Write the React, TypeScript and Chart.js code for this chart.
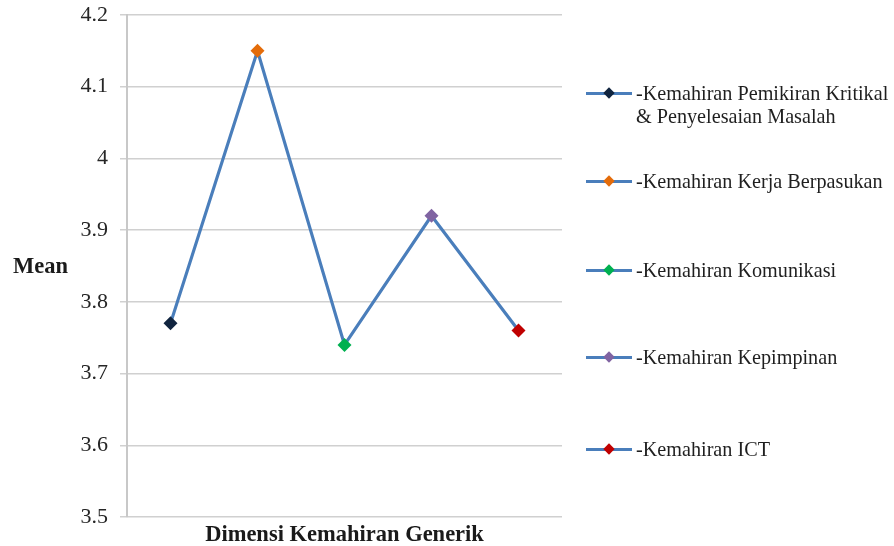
import React, { useEffect, useRef } from "react";
import { Chart, registerables } from "chart.js";

Chart.register(...registerables);

const categories = [
  "-Kemahiran Pemikiran Kritikal & Penyelesaian Masalah",
  "-Kemahiran Kerja Berpasukan",
  "-Kemahiran Komunikasi",
  "-Kemahiran Kepimpinan",
  "-Kemahiran ICT",
];
const legendLines = [
  ["-Kemahiran Pemikiran Kritikal", "& Penyelesaian Masalah"],
  ["-Kemahiran Kerja Berpasukan"],
  ["-Kemahiran Komunikasi"],
  ["-Kemahiran Kepimpinan"],
  ["-Kemahiran ICT"],
];
const meanValues = [3.77, 4.15, 3.74, 3.92, 3.76];
const pointColors = ["#10243F", "#E46C0A", "#00B050", "#8064A2", "#C00000"];
const yMin = 3.5;
const yMax = 4.2;
const yStep = 0.1;
const yTitle = "Mean";
const xTitle = "Dimensi Kemahiran Generik";

const LINE_COLOR = "#4A7EBB";
const FONT = "'Liberation Serif', 'Times New Roman', serif";
const legendCenters = [93, 181, 270, 357, 449];

export default function App() {
  const canvasRef = useRef<HTMLCanvasElement | null>(null);

  useEffect(() => {
    if (!canvasRef.current) return;
    const chart = new Chart(canvasRef.current, {
      type: "line",
      data: {
        labels: categories,
        datasets: [
          {
            label: yTitle,
            data: meanValues,
            borderColor: LINE_COLOR,
            borderWidth: 3.2,
            pointStyle: "rectRot",
            pointRadius: 7,
            pointBackgroundColor: pointColors,
            pointBorderColor: pointColors,
            pointBorderWidth: 0,
            tension: 0,
          },
        ],
      },
      options: {
        animation: false,
        responsive: true,
        maintainAspectRatio: false,
        layout: { padding: { left: 0, right: 332, top: 15, bottom: 0 } },
        plugins: { legend: { display: false }, tooltip: { enabled: false } },
        scales: {
          x: {
            type: "category",
            offset: true,
            grid: { display: false },
            border: { display: false },
            ticks: { display: false },
            title: {
              display: true,
              text: xTitle,
              color: "#1a1a1a",
              font: { family: FONT, size: 22.5, weight: "bold" },
              padding: { top: 0, bottom: -3 },
            },
            afterFit: (scale: any) => {
              scale.height = 29;
            },
          },
          y: {
            min: yMin,
            max: yMax,
            ticks: {
              stepSize: yStep,
              color: "#262626",
              padding: 12,
              font: { family: FONT, size: 22 },
              callback: (v: any) => String(Number(Number(v).toFixed(1))),
            },
            grid: { color: "#d0d0d0", lineWidth: 1.5, tickLength: 7 },
            border: { color: "#c8c8c8", width: 2 },
            afterFit: (scale: any) => {
              scale.width = 127;
              scale.paddingTop = 0;
              scale.paddingBottom = 0;
            },
          },
        },
      },
    });
    return () => chart.destroy();
  }, []);

  return (
    <div
      style={{
        position: "fixed",
        left: 0,
        top: 0,
        width: 894,
        height: 546,
        background: "#fff",
        fontFamily: FONT,
      }}
    >
      <canvas ref={canvasRef} />
      <div
        style={{
          position: "absolute",
          left: 13,
          top: 253,
          fontSize: 22.5,
          fontWeight: "bold",
          color: "#1a1a1a",
          lineHeight: "26px",
        }}
      >
        {yTitle}
      </div>
      {legendLines.map((lines, i) => (
        <div
          key={i}
          style={{
            position: "absolute",
            left: 586,
            top: legendCenters[i] - 11.5,
            height: 23,
          }}
        >
          <div
            style={{
              position: "absolute",
              left: 0,
              top: 10,
              width: 46,
              height: 3,
              background: LINE_COLOR,
            }}
          />
          <div
            style={{
              position: "absolute",
              left: 19,
              top: 7.5,
              width: 8,
              height: 8,
              background: pointColors[i],
              transform: "rotate(45deg)",
            }}
          />
          <div
            style={{
              position: "absolute",
              left: 50,
              top: 0,
              whiteSpace: "nowrap",
              fontSize: 20.2,
              lineHeight: "23px",
              color: "#1f1f1f",
            }}
          >
            {lines.map((t, j) => (
              <div key={j}>{t}</div>
            ))}
          </div>
        </div>
      ))}
    </div>
  );
}
